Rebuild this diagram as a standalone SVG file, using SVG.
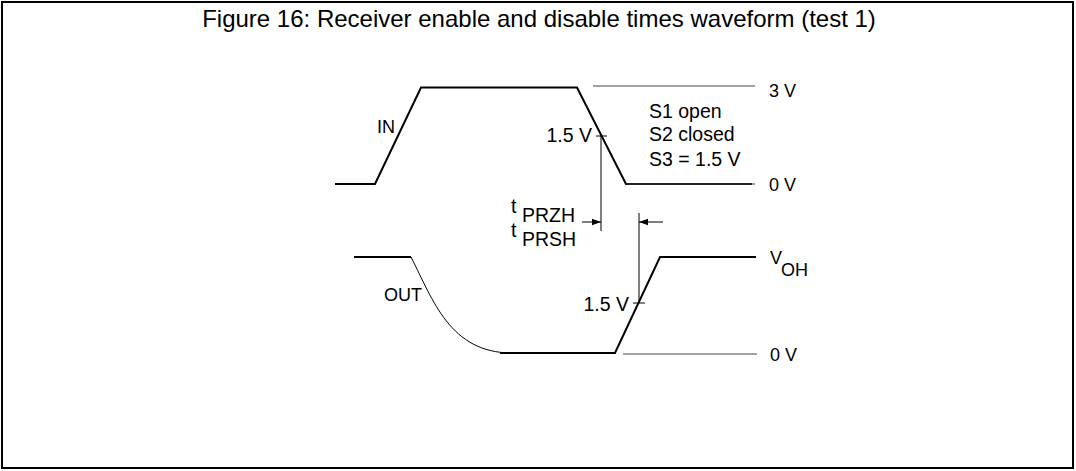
<svg xmlns="http://www.w3.org/2000/svg" width="1076" height="471" viewBox="0 0 1076 471">
<style>
text{font-family:"Liberation Sans",Arial,sans-serif;fill:#000}
.lbl{font-size:18px}
.big{font-size:19.5px}
.title{font-size:24px}
.thick{stroke:#000;stroke-width:2;fill:none}
.thin{stroke:#444;stroke-width:1.2;fill:none}
.dim{stroke:#000;stroke-width:1;fill:none}
</style>
<defs>
<marker id="ah" viewBox="0 0 10 10" refX="10" refY="5" markerWidth="9" markerHeight="9" markerUnits="userSpaceOnUse" orient="auto">
<path d="M0,1.5 L10,5 L0,8.5 Z" fill="#000"/>
</marker>
</defs>
<rect x="2" y="2" width="1071" height="466" fill="#fff" stroke="#000" stroke-width="2"/>
<text class="title" x="539" y="27" text-anchor="middle">Figure 16: Receiver enable and disable times waveform (test 1)</text>
<g id="in-signal">
<text class="lbl" x="395" y="133" text-anchor="end">IN</text>
<polyline class="thick" points="335,184 375,184 421,87.5 577,87.5 626,184 752,184"/>
</g>
<g id="in-levels">
<line class="thin" x1="593" y1="86" x2="755" y2="86"/>
<text class="lbl" x="769" y="97">3 V</text>
<line class="thin" x1="626" y1="184" x2="755" y2="184"/>
<text class="lbl" x="769" y="191">0 V</text>
<text class="big" x="592" y="142" text-anchor="end">1.5 V</text>
<line class="dim" x1="596" y1="136" x2="607" y2="136"/>
</g>
<g id="conditions">
<text class="big" x="649" y="118">S1 open</text>
<text class="big" x="649" y="141">S2 closed</text>
<text class="big" x="649" y="166">S3 = 1.5 V</text>
</g>
<g id="out-signal">
<text class="lbl" x="384" y="301">OUT</text>
<polyline class="thick" points="354,257 411,257"/>
<path class="dim" d="M411,257 C433,300 450,353 512,353"/>
<polyline class="thick" points="500,353 615,353 660,257 756,257"/>
</g>
<g id="out-levels">
<text class="lbl" x="770" y="264">V</text>
<text class="lbl" x="781" y="276">OH</text>
<line class="thin" x1="623" y1="354" x2="757" y2="354"/>
<text class="lbl" x="770" y="361">0 V</text>
<text class="big" x="629" y="311" text-anchor="end">1.5 V</text>
<line class="dim" x1="633" y1="303" x2="645" y2="303"/>
</g>
<g id="timing-label">
<text class="big" x="511" y="213">t</text>
<text class="big" x="522" y="222">PRZH</text>
<text class="big" x="511" y="237">t</text>
<text class="big" x="522" y="246">PRSH</text>
</g>
<g id="connectors">
<line class="dim" x1="601" y1="136" x2="601" y2="231"/>
<line class="dim" x1="639" y1="213" x2="639" y2="303"/>
<line class="dim" x1="582" y1="222" x2="601" y2="222" marker-end="url(#ah)"/>
<line class="dim" x1="663" y1="222" x2="639" y2="222" marker-end="url(#ah)"/>
</g>
</svg>
